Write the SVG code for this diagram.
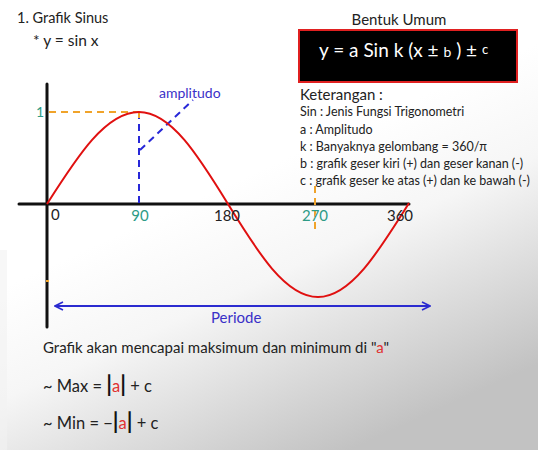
<svg xmlns="http://www.w3.org/2000/svg" width="538" height="450" viewBox="0 0 538 450">
<defs>
<linearGradient id="bg" x1="0.35" y1="0.45" x2="0.65" y2="1">
<stop offset="0" stop-color="#ffffff"/>
<stop offset="0.35" stop-color="#f6f6f6"/>
<stop offset="1" stop-color="#c2c2c2"/>
</linearGradient>
<marker id="chev" viewBox="0 0 10 10" refX="9" refY="5" markerWidth="10" markerHeight="10" markerUnits="userSpaceOnUse" orient="auto-start-reverse">
<path d="M1,1 L9,5 L1,9" fill="none" stroke="#2b2bd0" stroke-width="1.6"/>
</marker>
<style>
text{font-family:Lato,"Open Sans","Liberation Sans",sans-serif;fill:#222}
.t14{font-size:14px}
.t12{font-size:12.5px}
.teal{fill:#2e9b86}
.blue{fill:#3a30c8}
.red{fill:#e03030}
.bar{font-size:22px;font-weight:bold;fill:#111}
.ax{stroke:#111;stroke-width:3;stroke-linecap:round}
.or{stroke:#f0a32a;stroke-width:2;stroke-dasharray:7 5;fill:none}
.bl{stroke:#2828d8;stroke-width:2;stroke-dasharray:7 5;fill:none}
</style>
</defs>
<rect width="538" height="450" fill="url(#bg)"/>
<rect x="0" y="250" width="7" height="200" fill="#f2f2f2" opacity="0.6"/>

<g id="title">
<text x="17" y="23" style="font-size:14.5px">1. Grafik Sinus</text>
<text x="33" y="46" style="font-size:15.5px">* y = sin x</text>
</g>

<g id="axes">
<line class="ax" x1="47" y1="84" x2="47" y2="327"/>
<line class="ax" x1="19" y1="204" x2="409" y2="204"/>
</g>

<g id="guides">
<line class="or" x1="49" y1="112" x2="139" y2="112"/>
<line class="or" x1="139" y1="112" x2="139" y2="204"/>
<line class="bl" x1="139" y1="118" x2="139" y2="204" stroke-dasharray="6 6" stroke-dashoffset="6"/>
<line class="bl" x1="140" y1="150" x2="193" y2="100"/>
<line class="or" x1="315" y1="186" x2="315" y2="232"/>
<line x1="46" y1="281" x2="49" y2="281" stroke="#f0a32a" stroke-width="2"/>
</g>

<g id="curve">
<path d="M47,204 C77.7,155.7 105.9,112 139,112 C171,112 198.3,155.7 228,204 C258.1,252.8 285.6,297 318,297 C350.4,297 377.9,252.8 409,203" fill="none" stroke="#e01010" stroke-width="2"/>
</g>

<g id="labels">
<text x="36" y="117" class="t14 teal">1</text>
<text x="159" y="98" class="t14 blue">amplitudo</text>
<text x="51" y="220" style="font-size:15px">0</text>
<text x="140" y="221" class="teal" style="font-size:15px" text-anchor="middle">90</text>
<text x="227" y="221" style="font-size:15px" text-anchor="middle">180</text>
<text x="315" y="221" class="teal" style="font-size:15px" text-anchor="middle">270</text>
<text x="400" y="221" style="font-size:15px" text-anchor="middle">360</text>
</g>

<g id="periode">
<line x1="55" y1="306" x2="430" y2="306" stroke="#2b2bd0" stroke-width="2" marker-start="url(#chev)" marker-end="url(#chev)"/>
<text x="211" y="323" class="blue" style="font-size:15px">Periode</text>
</g>

<g id="bentuk">
<text x="399" y="25" text-anchor="middle" style="font-size:15px">Bentuk Umum</text>
<rect x="299" y="30" width="218" height="52" fill="#000" stroke="#e02020" stroke-width="2"/>
<text x="319" y="57" style="font-size:19px;fill:#fff">y = a Sin k (x ± <tspan style="font-size:14px">b</tspan> ) ± <tspan dy="-3" style="font-size:13px">c</tspan></text>
</g>

<g id="keterangan">
<text x="300" y="100" style="font-size:15px">Keterangan :</text>
<text x="300" y="116" class="t12">Sin : Jenis Fungsi Trigonometri</text>
<text x="300" y="134" class="t12">a : Amplitudo</text>
<text x="300" y="151" class="t12">k : Banyaknya gelombang  = 360/π</text>
<text x="300" y="168" class="t12">b : grafik geser kiri (+) dan geser kanan (-)</text>
<text x="300" y="185" class="t12">c : grafik geser ke atas (+) dan ke bawah (-)</text>
</g>

<g id="maxmin">
<text x="43" y="353" style="font-size:15px">Grafik akan mencapai maksimum dan minimum di "<tspan class="red">a</tspan>"</text>
<text x="43" y="392" style="font-size:16.5px">~ Max = <tspan class="bar">|</tspan><tspan class="red">a</tspan><tspan class="bar">|</tspan> + c</text>
<text x="43" y="429" style="font-size:16.5px">~ Min = −<tspan class="bar">|</tspan><tspan class="red">a</tspan><tspan class="bar">|</tspan> + c</text>
</g>
</svg>
